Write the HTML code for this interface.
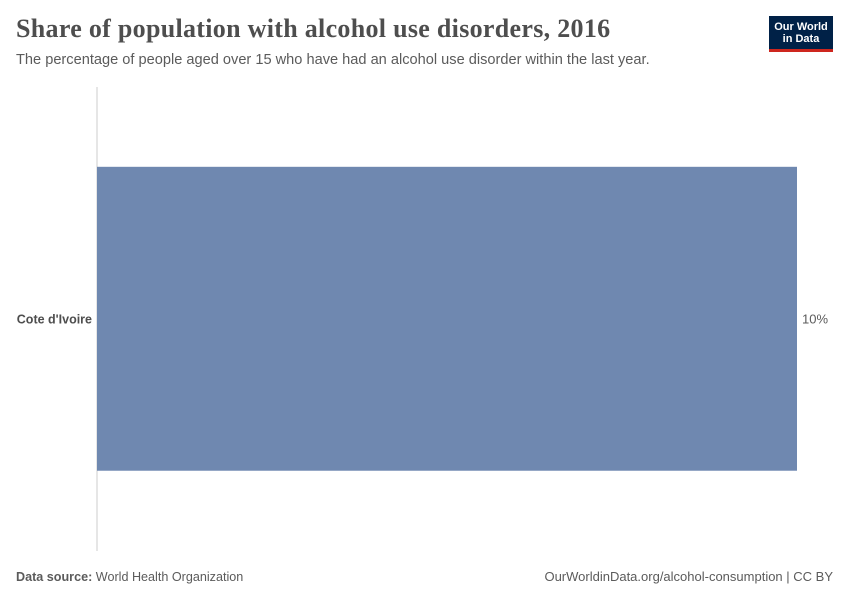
<!DOCTYPE html>
<html><head><meta charset="utf-8"><style>
body{margin:0;width:850px;height:600px;background:#fff;font-family:"Liberation Sans",sans-serif;position:relative;overflow:hidden}
.t{position:absolute;white-space:nowrap}
</style></head><body>
<div class="t" style="left:16px;top:14px;font-family:'Liberation Serif',serif;font-size:26px;font-weight:bold;color:#4e4e4e;letter-spacing:0.3px">Share of population with alcohol use disorders, 2016</div>
<div class="t" style="left:16px;top:52px;font-size:14.6px;color:#5b5b5b">The percentage of people aged over 15 who have had an alcohol use disorder within the last year.</div>
<div style="position:absolute;left:769px;top:16px;width:64px;height:36px;background:#002147;border-bottom:3px solid #ce261e;box-sizing:border-box;color:#fff;font-size:11px;font-weight:bold;line-height:12px;text-align:center;padding-top:5px">Our World<br>in Data</div>
<svg id="c" width="850" height="600" style="position:absolute;left:0;top:0"></svg>
<div class="t" style="left:16px;top:570px;font-size:12.6px;color:#5b5b5b"><b>Data source:</b> World Health Organization</div>
<div class="t" style="right:17px;top:569px;font-size:13px;color:#5b5b5b">OurWorldinData.org/alcohol-consumption | CC BY</div>
<script>
const categories=["Cote d'Ivoire"];
const values=[10];
const valueLabels=["10%"];
const NS="http://www.w3.org/2000/svg",svg=document.getElementById('c');
const x0=97,x1=797,xmax=10,y0=87,y1=551;
const xs=v=>x0+v/xmax*(x1-x0);
const band=(y1-y0)/categories.length;
const ax=document.createElementNS(NS,'line');


ax.setAttribute('x1',x0);ax.setAttribute('x2',x0);ax.setAttribute('y1',y0);ax.setAttribute('y2',y1);ax.setAttribute('stroke','#ccc');
svg.appendChild(ax);
categories.forEach((c,i)=>{
 const top=y0+i*band+band*0.172,h=band*0.655,cy=top+h/2;
 const r=document.createElementNS(NS,'rect');
 
 
 r.setAttribute('x',x0);r.setAttribute('y',top);r.setAttribute('width',xs(values[i])-x0);r.setAttribute('height',h);r.setAttribute('fill','#6f88b0');
 svg.appendChild(r);
 const l=document.createElementNS(NS,'text');
 
 
 l.setAttribute('x',92);l.setAttribute('y',cy+4.5);l.setAttribute('text-anchor','end');l.setAttribute('font-size','12.5');l.setAttribute('font-weight','bold');l.setAttribute('fill','#4e4e4e');
 l.textContent=c;svg.appendChild(l);
 const v=document.createElementNS(NS,'text');
 
 
 v.setAttribute('x',xs(values[i])+5);v.setAttribute('y',cy+4.5);v.setAttribute('font-size','13');v.setAttribute('fill','#5b5b5b');
 v.textContent=valueLabels[i];svg.appendChild(v);
});
</script>
</body></html>
